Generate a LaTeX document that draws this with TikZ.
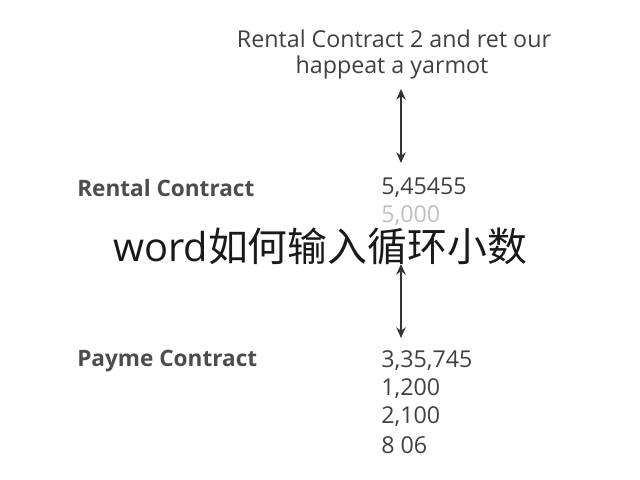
\documentclass[tikz,border=0pt]{standalone}
\usepackage{fontspec}
\setmainfont{Open Sans}
\newfontfamily\cjk{Noto Sans CJK SC}
\usetikzlibrary{arrows.meta}
\begin{document}
\begin{tikzpicture}[x=0.0264583cm,y=-0.0264583cm,
  txt/.style={font=\fontsize{17.5}{20}\selectfont,text=black!75,inner sep=0pt},
  lab/.style={txt,anchor=west,font=\fontsize{17}{20}\selectfont\bfseries,text=black!70},
  num/.style={txt,anchor=west,font=\fontsize{17.5}{20}\selectfont},
  arr/.style={{Stealth[length=8pt,width=7pt]}-{Stealth[length=8pt,width=7pt]},line width=1.2pt,draw=black!80}]
\useasboundingbox[fill=white] (0,0) rectangle (640,480);
\node[txt] (t1) at (394,39) {Rental Contract 2 and ret our};
\node[txt] (t2) at (392,67) {happeat a yarmot};
\coordinate (a1) at (401,89);
\coordinate (a2) at (401,163);
\draw[arr] (a1) -- (a2);
\node[lab] (l1) at (77,188) {Rental Contract};
\node[num] (n1) at (381,188) {5,45455};
\node[num,text=black!25] (n2) at (381,216) {5,000};
\coordinate (b1) at (401,264);
\coordinate (b2) at (401,338);
\draw[arr] (b1) -- (b2);
\node[lab] (l2) at (77,361) {Payme Contract};
\node[num] (n3) at (381,361) {3,35,745};
\node[num] (n4) at (381,389) {1,200};
\node[num] (n5) at (381,417) {2,100};
\node[num] (n6) at (381,445) {8 06};
\node[inner sep=0pt,text=black!90,fill=white,fill opacity=0.6,text opacity=1,font=\fontsize{30}{33}\selectfont] (w) at (320,246) {word{\cjk 如何输入循环小数}};
\end{tikzpicture}
\end{document}
